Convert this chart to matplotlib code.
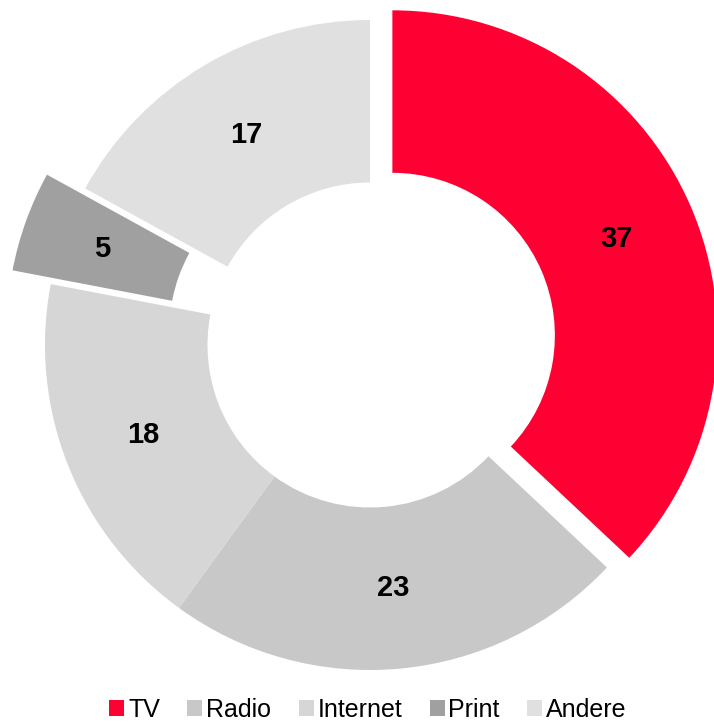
import matplotlib.pyplot as plt
from matplotlib.patches import Patch
import numpy as np

plt.rcParams['font.family'] = ['Liberation Sans', 'DejaVu Sans']

# Daten
labels = ['TV', 'Radio', 'Internet', 'Print', 'Andere']
values = [37, 23, 18, 5, 17]
colors = ['#FF0033', '#C8C8C8', '#D6D6D6', '#A0A0A0', '#E0E0E0']
explode = [0.075, 0, 0, 0.125, 0]

fig = plt.figure(figsize=(7.14, 7.25), dpi=100)
ax = fig.add_axes([0, 0, 1, 1])

wedges, texts = ax.pie(values, colors=colors, explode=explode, startangle=90,
                       counterclock=False, radius=1,
                       wedgeprops=dict(width=0.5, edgecolor='none'))

# Beschriftungen in der Mitte des Rings
for w, v in zip(wedges, values):
    ang = np.deg2rad((w.theta1 + w.theta2) / 2)
    cx, cy = w.center
    r = 0.75
    ax.text(cx + r * np.cos(ang), cy + r * np.sin(ang), str(v),
            ha='center', va='center', fontsize=21, fontweight='bold')

# Pixel-genaue Achsengrenzen (Mitte bei 370/345 px, Radius 325 px)
ax.set_xlim(-370 / 325, (714 - 370) / 325)
ax.set_ylim(-(725 - 345) / 325, 345 / 325)
ax.set_aspect('auto')
ax.axis('off')

handles = [Patch(facecolor=c, edgecolor='none') for c in colors]
fig.legend(handles, labels, loc='center', bbox_to_anchor=(368 / 714, 1 - 710 / 725),
           ncol=5, frameon=False, fontsize=18, handlelength=0.6, handleheight=0.6,
           handletextpad=0.15, columnspacing=1.1, borderpad=0)

fig.savefig('out.png', dpi=100)
